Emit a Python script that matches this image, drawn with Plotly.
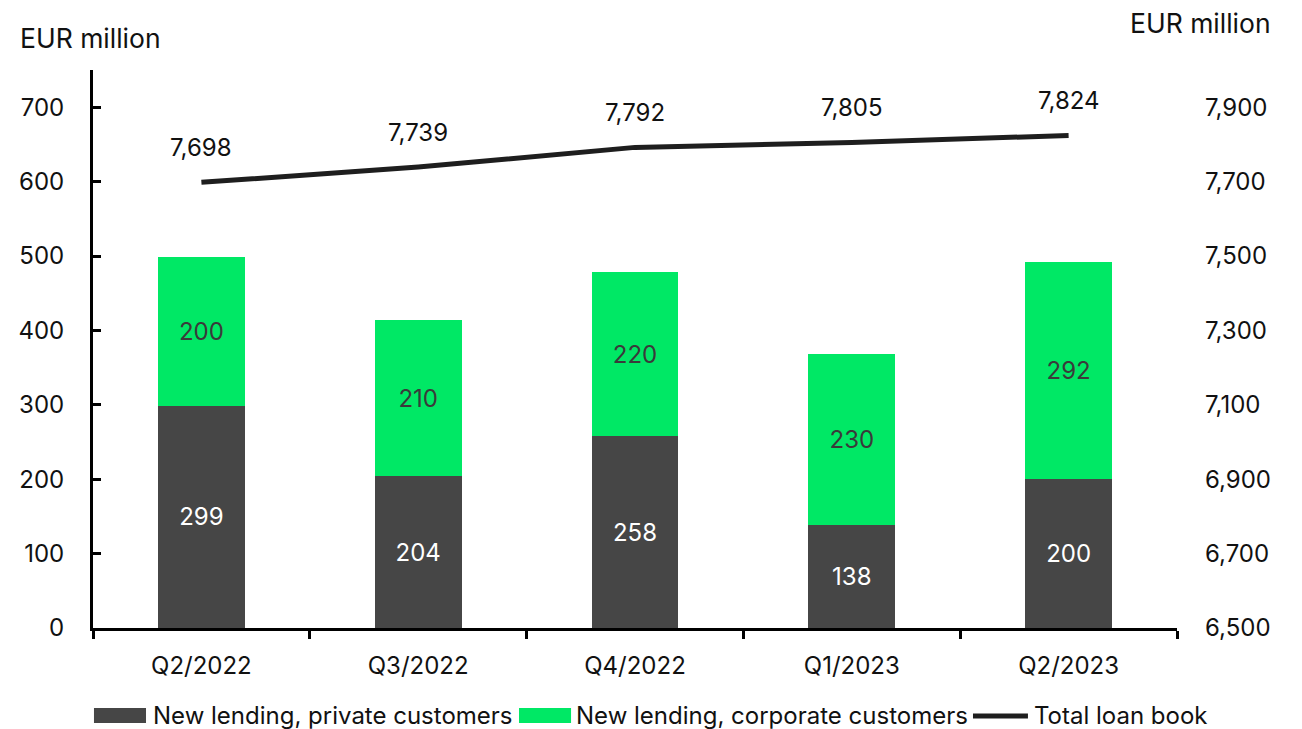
import plotly.graph_objects as go

quarters = ["Q2/2022", "Q3/2022", "Q4/2022", "Q1/2023", "Q2/2023"]
private_new = [299, 204, 258, 138, 200]
corporate_new = [200, 210, 220, 230, 292]
loan_book = [7698, 7739, 7792, 7805, 7824]
series_names = ["New lending, private customers", "New lending, corporate customers", "Total loan book"]

FONT = "Inter"
FS = 24
DARK = "#464646"
GREEN = "#00E865"
LINE = "#1e1e1e"
TXT = "#111111"

fig = go.Figure()
fig.add_trace(go.Bar(
    x=quarters, y=private_new, name=series_names[0],
    marker=dict(color=DARK, line=dict(width=0)), width=0.4,
    text=[str(v) for v in private_new], textposition="inside",
    insidetextanchor="middle", textfont=dict(color="white", size=FS, family=FONT),
))
fig.add_trace(go.Bar(
    x=quarters, y=corporate_new, name=series_names[1],
    marker=dict(color=GREEN, line=dict(width=0)), width=0.4,
    text=[str(v) for v in corporate_new], textposition="inside",
    insidetextanchor="middle", textfont=dict(color="#3a3a3a", size=FS, family=FONT),
))
fig.add_trace(go.Scatter(
    x=quarters, y=loan_book, name=series_names[2], yaxis="y2",
    mode="lines", line=dict(color=LINE, width=5),
))

for q, v in zip(quarters, loan_book):
    fig.add_annotation(x=q, y=v, xref="x", yref="y2", text=f"{v:,}",
                       showarrow=False, yshift=35,
                       font=dict(size=FS, family=FONT, color=TXT))

# axis unit titles
fig.add_annotation(x=-0.0692, y=1.0573, xref="paper", yref="paper", text="EUR million",
                   showarrow=False, xanchor="left", yanchor="middle",
                   font=dict(size=26.5, family=FONT, color=TXT))
fig.add_annotation(x=1.0886, y=1.0842, xref="paper", yref="paper", text="EUR million",
                   showarrow=False, xanchor="right", yanchor="middle",
                   font=dict(size=26.5, family=FONT, color=TXT))

# legend (drawn below the plot, wide swatches as in the reference)
LEG_Y0, LEG_Y1, LEG_YC = -0.1703, -0.1434, -0.1577
fig.add_shape(type="rect", xref="paper", yref="paper", x0=0.0009, x1=0.0489,
              y0=LEG_Y0, y1=LEG_Y1, fillcolor=DARK, line=dict(width=0))
fig.add_shape(type="rect", xref="paper", yref="paper", x0=0.393, x1=0.441,
              y0=LEG_Y0, y1=LEG_Y1, fillcolor=GREEN, line=dict(width=0))
fig.add_shape(type="line", xref="paper", yref="paper", x0=0.8118, x1=0.8625,
              y0=LEG_YC, y1=LEG_YC, line=dict(color=LINE, width=5))
for xpos, name in zip([0.0535, 0.4438, 0.8662], series_names):
    fig.add_annotation(x=xpos, y=LEG_YC, xref="paper", yref="paper", text=name,
                       showarrow=False, xanchor="left", yanchor="middle",
                       font=dict(size=FS, family=FONT, color=TXT))

fig.update_layout(
    width=1294, height=721,
    margin=dict(l=85, r=125, t=62, b=101, autoexpand=False),
    paper_bgcolor="white", plot_bgcolor="white",
    barmode="stack", showlegend=False,
    font=dict(family=FONT, size=FS, color=TXT),
    xaxis=dict(
        type="category", showline=True, linecolor="black", linewidth=3,
        ticks="outside", tickson="boundaries", ticklen=8, tickwidth=3, tickcolor="black",
        showgrid=False, zeroline=False, ticklabelstandoff=14, automargin=False,
    ),
    yaxis=dict(
        range=[0, 750], tickvals=[0, 100, 200, 300, 400, 500, 600, 700],
        showline=True, linecolor="black", linewidth=3,
        ticks="inside", ticklen=8, tickwidth=3, tickcolor="black",
        showgrid=False, zeroline=False, ticklabelstandoff=21, automargin=False,
    ),
    yaxis2=dict(
        range=[6500, 8000], tickvals=[6500, 6700, 6900, 7100, 7300, 7500, 7700, 7900],
        overlaying="y", side="right", showline=False, showgrid=False, zeroline=False,
        tickformat=",", ticks="", ticklabelstandoff=27, automargin=False,
    ),
)

fig.write_html("out.html")
